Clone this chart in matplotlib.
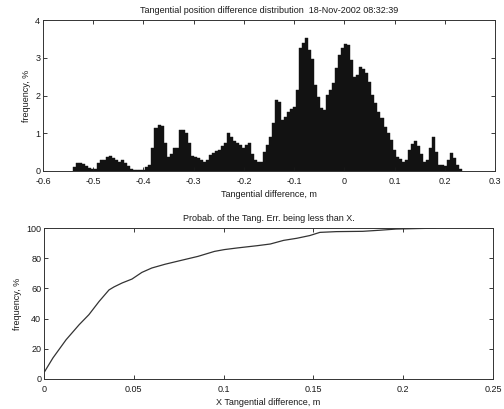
import numpy as np
import matplotlib
matplotlib.use("Agg")
import matplotlib.pyplot as plt

plt.rcParams['font.family'] = ['Liberation Sans', 'DejaVu Sans']

# Histogram of tangential position difference (percent per bin)
bin_start = -0.540
bin_width = 0.006
freq_pct = [
    0.10, 0.20, 0.22, 0.18, 0.12, 0.07, 0.06, 0.06, 0.20, 0.29,
    0.29, 0.36, 0.40, 0.34, 0.30, 0.25, 0.30, 0.22, 0.12, 0.06,
    0.03, 0.02, 0.02, 0.03, 0.10, 0.15, 0.60, 1.13, 1.22, 1.18,
    0.73, 0.38, 0.45, 0.60, 0.62, 1.08, 1.08, 1.00, 0.73, 0.40,
    0.36, 0.34, 0.30, 0.25, 0.28, 0.42, 0.47, 0.52, 0.56, 0.65,
    0.75, 1.00, 0.90, 0.80, 0.73, 0.69, 0.60, 0.70, 0.73, 0.45,
    0.30, 0.25, 0.25, 0.50, 0.70, 0.91, 1.27, 1.88, 1.84, 1.35,
    1.42, 1.55, 1.64, 1.70, 2.15, 3.25, 3.38, 3.51, 3.20, 2.98,
    2.28, 1.95, 1.66, 1.62, 2.01, 2.15, 2.32, 2.72, 3.07, 3.25,
    3.36, 3.34, 2.95, 2.50, 2.55, 2.76, 2.70, 2.60, 2.37, 2.01,
    1.80, 1.55, 1.40, 1.17, 1.00, 0.82, 0.56, 0.38, 0.32, 0.25,
    0.30, 0.55, 0.72, 0.80, 0.65, 0.45, 0.25, 0.30, 0.62, 0.91,
    0.50, 0.16, 0.15, 0.12, 0.29, 0.47, 0.35, 0.15, 0.05,
]

# Cumulative probability of |tangential error| below X
cdf_x = [0.0004, 0.005, 0.0123, 0.0196, 0.025, 0.0307, 0.0362, 0.039,
         0.0435, 0.049, 0.0545, 0.060, 0.0674, 0.0765, 0.0857, 0.0949,
         0.1004, 0.1077, 0.1188, 0.126, 0.1334, 0.1408, 0.148, 0.1536,
         0.1628, 0.1775, 0.1867, 0.196, 0.214, 0.218]
cdf_y = [5, 14, 26, 36, 42.6, 51.4, 59, 61, 63.6, 66.2, 70.6, 73.5, 76,
         78.6, 81.2, 84.5, 85.7, 86.8, 88.3, 89.4, 91.8, 93.2, 95, 97.1,
         97.6, 97.8, 98.5, 99.3, 99.8, 100]

hist_xticks = [-0.6, -0.5, -0.4, -0.3, -0.2, -0.1, 0, 0.1, 0.2, 0.3]
hist_xlabels = ['-0.6', '-0.5', '-0.4', '-0.3', '-0.2', '-0.1', '0', '0.1', '0.2', '0.3']
hist_yticks = [0, 1, 2, 3, 4]
cdf_xticks = [0, 0.05, 0.1, 0.15, 0.2, 0.25]
cdf_xlabels = ['0', '0.05', '0.1', '0.15', '0.2', '0.25']
cdf_yticks = [0, 20, 40, 60, 80, 100]

ink = '#1a1a1a'
fs = 6.5

fig = plt.figure(figsize=(5.04, 4.09), dpi=100)
ax1 = fig.add_axes([43 / 504, 1 - 171 / 409, 452 / 504, 151 / 409])
ax2 = fig.add_axes([44 / 504, 1 - 379 / 409, 449 / 504, 151 / 409])

lefts = bin_start + bin_width * np.arange(len(freq_pct))
ax1.bar(lefts, freq_pct, width=bin_width, align='edge',
        color='#121212', edgecolor='#121212', linewidth=0.3)
ax1.set_xlim(-0.6, 0.3)
ax1.set_ylim(0, 4)
ax1.set_xticks(hist_xticks)
ax1.set_xticklabels(hist_xlabels)
ax1.set_yticks(hist_yticks)
ax1.set_title('Tangential position difference distribution  18-Nov-2002 08:32:39',
              fontsize=fs, color=ink, pad=5)
ax1.set_xlabel('Tangential difference, m', fontsize=fs, color=ink, labelpad=3)
ax1.set_ylabel('frequency, %', fontsize=fs, color=ink, labelpad=3)

ax2.plot(cdf_x, cdf_y, color='#333333', linewidth=0.9)
ax2.set_xlim(0, 0.25)
ax2.set_ylim(0, 100)
ax2.set_xticks(cdf_xticks)
ax2.set_xticklabels(cdf_xlabels)
ax2.set_yticks(cdf_yticks)
ax2.set_title('Probab. of the Tang. Err. being less than X.',
              fontsize=fs, color=ink, pad=5)
ax2.set_xlabel('X Tangential difference, m', fontsize=fs, color=ink, labelpad=3)
ax2.set_ylabel('frequency, %', fontsize=fs, color=ink, labelpad=3)

for ax in (ax1, ax2):
    ax.tick_params(direction='in', length=3, width=0.6, top=True, right=True,
                   labelsize=fs, colors=ink)
    ax.tick_params(axis='x', pad=4)
    ax.tick_params(axis='y', pad=2)
    for sp in ax.spines.values():
        sp.set_linewidth(0.7)
        sp.set_color('#333333')

fig.savefig('out.png', dpi=100)
